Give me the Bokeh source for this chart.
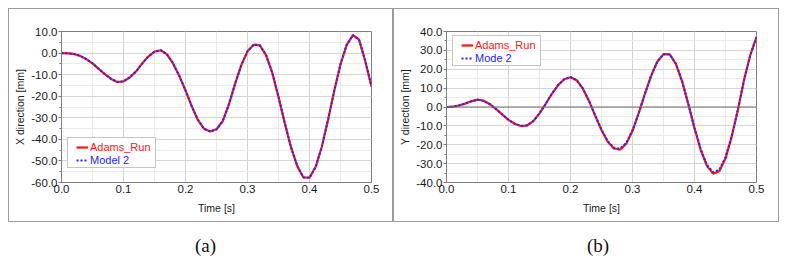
from bokeh.plotting import figure
from bokeh.models import (Range1d, SingleIntervalTicker, NumeralTickFormatter, Legend,
                          LegendItem, Span, Div, Spacer)
from bokeh.layouts import column, row
from bokeh.embed import file_html
from bokeh.resources import INLINE

# ---------------- data ----------------
time_s = [0.00, 0.01, 0.02, 0.03, 0.04, 0.05, 0.06, 0.07, 0.08, 0.09,
          0.10, 0.11, 0.12, 0.13, 0.14, 0.15, 0.16, 0.17, 0.18, 0.19,
          0.20, 0.21, 0.22, 0.23, 0.24, 0.25, 0.26, 0.27, 0.28, 0.29,
          0.30, 0.31, 0.32, 0.33, 0.34, 0.35, 0.36, 0.37, 0.38, 0.39,
          0.40, 0.41, 0.42, 0.43, 0.44, 0.45, 0.46, 0.47, 0.48, 0.49, 0.50]

x_adams = [0.0, -0.1, -0.4, -1.3, -2.8, -4.8, -7.3, -9.8, -12.0, -13.4,
           -13.1, -11.3, -8.6, -4.9, -1.6, 0.7, 1.3, -0.6, -4.8, -10.6,
           -17.3, -24.6, -31.0, -35.1, -36.4, -35.3, -31.6, -23.8, -14.2, -5.6,
           0.8, 3.9, 3.6, -1.0, -9.2, -20.3, -32.3, -43.5, -52.2, -57.6,
           -57.8, -52.7, -43.3, -30.8, -17.4, -5.2, 3.8, 8.3, 6.2, -3.8, -15.5]

x_model2 = [0.0, -0.1, -0.4, -1.3, -2.8, -4.8, -7.3, -9.8, -12.0, -13.4,
            -13.1, -11.3, -8.6, -4.9, -1.6, 0.7, 1.3, -0.6, -4.8, -10.6,
            -17.3, -24.6, -31.0, -35.1, -36.4, -35.3, -31.6, -23.8, -14.2, -5.6,
            0.8, 3.9, 3.6, -1.0, -9.2, -20.3, -32.3, -43.5, -52.2, -57.6,
            -57.8, -52.7, -43.3, -30.8, -17.4, -5.2, 3.8, 8.3, 6.2, -3.8, -15.5]

y_adams = [0.0, 0.2, 0.8, 1.8, 3.0, 3.9, 3.3, 1.5, -1.1, -4.0,
           -6.8, -8.9, -10.1, -9.8, -7.5, -3.4, 1.7, 7.0, 11.6, 14.7,
           15.8, 14.2, 9.7, 3.1, -4.7, -12.2, -18.4, -22.0, -22.6, -19.4,
           -12.6, -3.3, 7.0, 16.5, 24.0, 28.0, 27.9, 22.9, 13.6, 1.6,
           -11.2, -22.7, -31.2, -35.3, -34.0, -27.2, -15.7, -1.5, 14.5, 27.5, 37.0]

y_mode2 = [0.0, 0.2, 0.8, 1.8, 3.0, 3.9, 3.3, 1.5, -1.1, -4.0,
           -6.8, -8.9, -10.0, -9.7, -7.5, -3.4, 1.7, 7.0, 11.6, 14.7,
           15.8, 14.2, 9.7, 3.1, -4.7, -12.0, -18.0, -21.6, -22.0, -19.0,
           -12.4, -3.3, 7.0, 16.5, 24.0, 28.0, 27.9, 22.9, 13.6, 1.6,
           -11.0, -22.3, -30.6, -34.5, -33.2, -26.6, -15.4, -1.5, 14.5, 27.5, 37.0]

x_limits = (0.0, 0.5)
left_y_limits = (-60.0, 10.0)
right_y_limits = (-40.0, 40.0)
legend_names_a = ["Adams_Run", "Model 2"]
legend_names_b = ["Adams_Run", "Mode 2"]
captions = ["(a)", "(b)"]

FONT = "Liberation Sans"
RED = "#ff1414"
BLUE = "#2323ff"


def make_panel(width, ylabel, ylim, red_vals, blue_vals, names, leg_bottom, zero_line=False):
    p = figure(width=width, height=214, output_backend="svg", toolbar_location=None,
               x_range=Range1d(*x_limits), y_range=Range1d(*ylim),
               min_border_left=52, min_border_right=width - 52 - 310, min_border_top=22,
               min_border_bottom=41, background_fill_color="white", border_fill_color="white",
               outline_line_color="#7f7f7f", outline_line_width=1,
               styles={"border": "1px solid #9c9c9c"})
    p.xaxis.ticker = SingleIntervalTicker(interval=0.1, num_minor_ticks=2)
    p.yaxis.ticker = SingleIntervalTicker(interval=10, num_minor_ticks=2)
    p.xaxis.formatter = NumeralTickFormatter(format="0.0")
    p.yaxis.formatter = NumeralTickFormatter(format="0.0")
    for ax in (p.xaxis, p.yaxis):
        ax.axis_line_color = "#7f7f7f"
        ax.major_tick_line_color = "#7f7f7f"
        ax.minor_tick_line_color = "#7f7f7f"
        ax.major_label_text_font = FONT
        ax.major_label_text_font_size = "11.5px"
        ax.major_label_text_color = "#1a1a1a"
        ax.axis_label_text_font = FONT
        ax.axis_label_text_font_size = "10.5px"
        ax.axis_label_text_font_style = "normal"
        ax.axis_label_text_color = "#1a1a1a"
    p.xaxis.axis_label = "Time [s]"
    p.yaxis.axis_label = ylabel
    p.xaxis.major_tick_out = 0
    p.xaxis.major_tick_in = 0
    p.xaxis.minor_tick_out = 0
    p.xaxis.minor_tick_in = 0
    p.xaxis.major_label_standoff = 2
    p.xaxis.axis_label_standoff = 6
    p.yaxis.major_tick_out = 3
    p.yaxis.major_tick_in = 0
    p.yaxis.minor_tick_out = 2
    p.yaxis.minor_tick_in = 0
    p.yaxis.major_label_standoff = 1
    p.yaxis.axis_label_standoff = 2

    p.grid.grid_line_color = "#d4d4d4"
    p.grid.grid_line_width = 1
    p.grid.minor_grid_line_color = "#e9e9e9"
    p.grid.minor_grid_line_width = 1

    if zero_line:
        p.add_layout(Span(location=0, dimension="width", line_color="#6e6e6e", line_width=1))

    r1 = p.line(time_s, red_vals, line_color=RED, line_width=2.2)
    r2 = p.line(time_s, blue_vals, line_color=BLUE, line_width=2, line_dash="2 2")
    ghost = p.line([], [], line_alpha=0)

    # framed legend box (invisible glyphs, blank labels) – only draws the frame
    box = Legend(items=[LegendItem(label=" ", renderers=[ghost]),
                        LegendItem(label=" ", renderers=[ghost])],
                 location=(6, leg_bottom), border_line_color="#8c8c8c", border_line_width=1,
                 background_fill_color="white", background_fill_alpha=1.0,
                 padding=2, margin=0, spacing=1, glyph_width=19, glyph_height=12,
                 label_height=12, label_width=62, label_standoff=2,
                 label_text_font=FONT, label_text_font_size="11px")
    p.add_layout(box)

    # coloured entries, one legend per row, laid over the box rows
    def row_legend(label, rend, color, y):
        return Legend(items=[LegendItem(label=label, renderers=[rend])], location=(15, y),
                      border_line_alpha=0, background_fill_alpha=0, padding=0, margin=0,
                      spacing=0, glyph_width=12, glyph_height=12, label_height=12,
                      label_standoff=2, label_text_font=FONT, label_text_font_size="11px",
                      label_text_color=color, label_text_baseline="middle")

    p.add_layout(row_legend(names[0], r1, RED, leg_bottom + 15))
    p.add_layout(row_legend(names[1], r2, BLUE, leg_bottom + 2))
    return p


pa = make_panel(385, "X direction [mm]", left_y_limits, x_adams, x_model2, legend_names_a,
                leg_bottom=14)
pb = make_panel(386, "Y direction [mm]", right_y_limits, y_adams, y_mode2, legend_names_b,
                leg_bottom=116, zero_line=True)


def caption(txt, w):
    inner = ('<div style="width:%dpx;padding-top:5px;text-align:center;'
             'font-family:\'Liberation Serif\';font-size:19px;color:#111;">%s</div>'
             % (w, txt))
    return Div(text=inner, width=w, height=31)


da = caption(captions[0], 385)
db = caption(captions[1], 380)

layout = column(Spacer(height=8),
                row(Spacer(width=8), column(row(pa, pb), row(da, db))))

open("out.html", "w").write(file_html(layout, INLINE))
